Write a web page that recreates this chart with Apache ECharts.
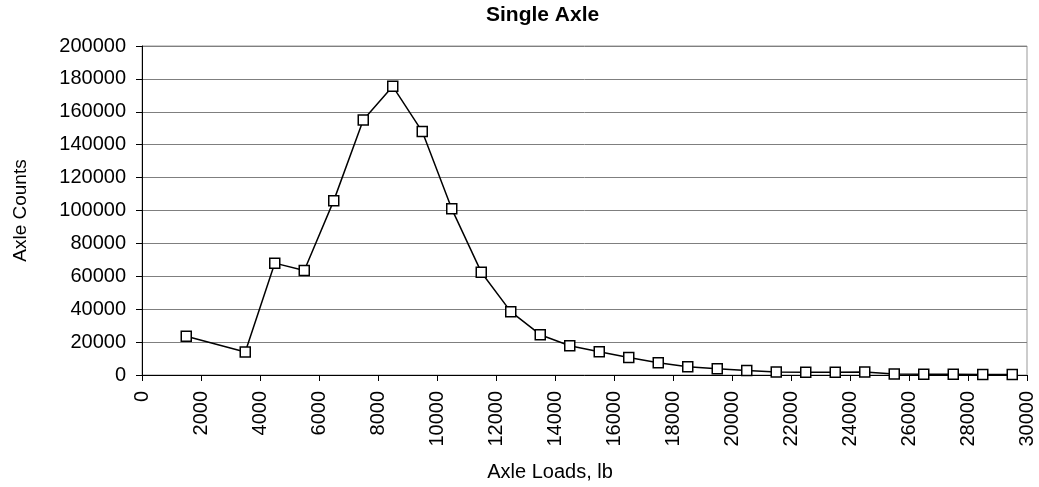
<!DOCTYPE html>
<html>
<head>
<meta charset="utf-8">
<script src="https://cdn.jsdelivr.net/npm/echarts@6/dist/echarts.min.js"></script>
<style>
html,body{margin:0;padding:0;background:#fff;}
#chart{width:1039px;height:487px;}
</style>
</head>
<body>
<div id="chart"></div>
<script>
var titleText = 'Single Axle';
var xAxisName = 'Axle Loads, lb';
var yAxisName = 'Axle Counts';
var axleLoads = [1500, 3500, 4500, 5500, 6500, 7500, 8500, 9500, 10500, 11500, 12500, 13500, 14500, 15500,
  16500, 17500, 18500, 19500, 20500, 21500, 22500, 23500, 24500, 25500, 26500, 27500, 28500, 29500];
var axleCounts = [23500, 14000, 68000, 63500, 106000, 155000, 175500, 148000, 101000, 62500, 38500, 24500, 17800, 14100,
  10700, 7500, 5000, 3800, 2800, 1800, 1600, 1600, 1800, 600, 500, 400, 300, 300];

var seriesData = axleLoads.map(function (x, i) { return [x, axleCounts[i]]; });
var FONT = '"Liberation Sans", Arial, sans-serif';
function plain(v) { return String(v); }

var chart = echarts.init(document.getElementById('chart'), null, {renderer: 'canvas'});
chart.setOption({
  animation: false,
  backgroundColor: '#ffffff',
  textStyle: {fontFamily: FONT},
  title: {
    text: titleText,
    left: 486,
    top: 5,
    padding: 0,
    textStyle: {fontFamily: FONT, fontSize: 21, fontWeight: 'bold', color: '#000'}
  },
  grid: {
    left: 142, top: 46, right: 12, bottom: 111,
    show: true, borderColor: '#999999', borderWidth: 1, backgroundColor: 'transparent'
  },
  xAxis: {
    type: 'value',
    min: 0, max: 30000, interval: 2000,
    name: xAxisName,
    nameLocation: 'middle',
    nameGap: 87,
    nameTextStyle: {fontFamily: FONT, fontSize: 20, color: '#000', padding: [0, 69, 0, 0]},
    axisLine: {show: true, onZero: false, lineStyle: {color: '#000', width: 1}},
    axisTick: {show: true, inside: false, length: 6, lineStyle: {color: '#000'}},
    axisLabel: {rotate: 90, margin: 16, fontFamily: FONT, fontSize: 20, color: '#000', formatter: plain},
    splitLine: {show: false}
  },
  yAxis: {
    type: 'value',
    min: 0, max: 200000, interval: 20000,
    name: yAxisName,
    nameLocation: 'middle',
    nameGap: 112,
    nameTextStyle: {fontFamily: FONT, fontSize: 19, color: '#000'},
    axisLine: {show: true, lineStyle: {color: '#000', width: 1}},
    axisTick: {show: true, inside: false, length: 6, lineStyle: {color: '#000'}},
    axisLabel: {margin: 16, fontFamily: FONT, fontSize: 20, color: '#000', formatter: plain},
    splitLine: {show: true, lineStyle: {color: '#7f7f7f', width: 1}}
  },
  series: [{
    type: 'line',
    data: seriesData,
    symbol: 'rect',
    symbolSize: 10,
    lineStyle: {color: '#000', width: 1.5},
    itemStyle: {color: '#fff', borderColor: '#000', borderWidth: 1.5},
    z: 5
  }]
});
</script>
</body>
</html>
